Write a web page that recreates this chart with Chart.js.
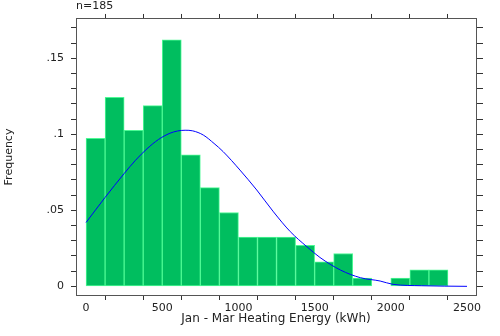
<!DOCTYPE html>
<html>
<head>
<meta charset="utf-8">
<script src="https://cdn.jsdelivr.net/npm/chart.js@4"></script>
<style>
  html, body { margin: 0; padding: 0; background: #fff; }
  #wrap { width: 500px; height: 336px; }
</style>
</head>
<body>
<div id="wrap"><canvas id="histChart" width="500" height="336"></canvas></div>
<script>
// histogram bins (kWh, bin midpoints) and relative frequency
const binMid = [62.5, 187.5, 312.5, 437.5, 562.5, 687.5, 812.5, 937.5, 1062.5, 1187.5,
  1312.5, 1437.5, 1562.5, 1687.5, 1812.5, 1937.5, 2062.5, 2187.5, 2312.5];
const freq = [0.0973, 0.1243, 0.1027, 0.1189, 0.1622, 0.0865, 0.0649, 0.0486, 0.0324, 0.0324,
  0.0324, 0.0270, 0.0162, 0.0216, 0.0054, 0, 0.0054, 0.0108, 0.0108];

// fitted curve
const curveX = [0, 125, 250, 325, 400, 475, 550, 600, 650, 700, 770, 840, 900, 1010, 1120,
  1230, 1340, 1450, 1535, 1670, 1800, 1930, 2015, 2200, 2500];
const curveY = [0.042, 0.0585, 0.0742, 0.083, 0.0905, 0.0966, 0.1007, 0.1022, 0.1027, 0.1023, 0.0995, 0.094, 0.0886, 0.0765, 0.0634,
  0.049, 0.036, 0.026, 0.019, 0.0107, 0.0057, 0.0035, 0.0013, 0.0004, 0];

// labelled ticks
const xTickVals = [0, 500, 1000, 1500, 2000, 2500];
const yTickVals = [0, 0.05, 0.1, 0.15];
const yTickLabels = ['0', '.05', '.1', '.15'];

const sampleSize = 'n=185';
const xTitle = 'Jan - Mar Heating Energy (kWh)';
const yTitle = 'Frequency';

const tickFont = { family: 'DejaVu Sans', size: 11 };
const frame = { display: true, color: '#555', width: 1 };
const ticksOnly = { drawOnChartArea: false, drawTicks: true, tickLength: 5, tickColor: '#333', tickWidth: 1 };

const xRange = { min: -66, max: 2559 };
const yRange = { min: -0.0057, max: 0.1759 };

const initChart = () => {
  const ctx = document.getElementById('histChart').getContext('2d');

  new Chart(ctx, {
    type: 'bar',
    data: {
      datasets: [{
        type: 'line',
        data: curveX.map((x, i) => ({ x: x, y: curveY[i] })),
        borderColor: '#0000ff',
        borderWidth: 1,
        pointRadius: 0,
        cubicInterpolationMode: 'monotone',
        fill: false,
        order: 0
      }, {
        data: binMid.map((x, i) => ({ x: x, y: freq[i] })),
        backgroundColor: '#00be5f',
        borderColor: '#4cfa94',
        borderWidth: 1,
        borderSkipped: false,
        barPercentage: 1,
        categoryPercentage: 1,
        order: 1
      }]
    },
    options: {
      responsive: false,
      animation: false,
      layout: { padding: 0 },
      plugins: {
        legend: { display: false },
        tooltip: { enabled: false },
        title: {
          display: true,
          text: sampleSize,
          align: 'start',
          fullSize: false,
          color: '#222',
          font: { family: 'DejaVu Sans', size: 11, weight: 'normal', lineHeight: 1.18 },
          padding: { top: 0, bottom: 0 }
        }
      },
      scales: {
        x: {
          type: 'linear',
          position: 'bottom',
          offset: false,
          ...xRange,
          border: frame,
          grid: ticksOnly,
          ticks: {
            stepSize: 250,
            includeBounds: false,
            maxRotation: 0,
            autoSkip: false,
            padding: 2,
            color: '#222',
            font: tickFont,
            callback: v => (xTickVals.includes(v) ? String(v) : '')
          },
          title: {
            display: true,
            text: xTitle,
            color: '#222',
            font: { family: 'DejaVu Sans', size: 12 },
            padding: { top: 0, bottom: 10 }
          },
          afterFit: s => { s.height = 41; }
        },
        x2: {
          type: 'linear',
          position: 'top',
          offset: false,
          ...xRange,
          border: frame,
          grid: ticksOnly,
          ticks: { display: false, stepSize: 250, includeBounds: false, autoSkip: false },
          afterFit: s => { s.height = 6; }
        },
        y: {
          position: 'left',
          ...yRange,
          border: frame,
          grid: ticksOnly,
          ticks: {
            stepSize: 0.01,
            maxTicksLimit: 100,
            includeBounds: false,
            autoSkip: false,
            padding: 7,
            color: '#222',
            font: tickFont,
            callback: v => {
              const k = yTickVals.findIndex(t => Math.abs(t - v) < 1e-6);
              return k >= 0 ? yTickLabels[k] : '';
            }
          },
          title: {
            display: true,
            text: yTitle,
            color: '#222',
            font: tickFont,
            padding: { top: 3, bottom: 0 }
          },
          afterFit: s => { s.width = 76; }
        },
        y2: {
          position: 'right',
          ...yRange,
          border: frame,
          grid: { ...ticksOnly, tickLength: 7 },
          ticks: { display: false, stepSize: 0.01, maxTicksLimit: 100, includeBounds: false, autoSkip: false },
          afterFit: s => { s.width = 24; }
        }
      }
    }
  });
};

document.addEventListener('DOMContentLoaded', initChart);
</script>
</body>
</html>
